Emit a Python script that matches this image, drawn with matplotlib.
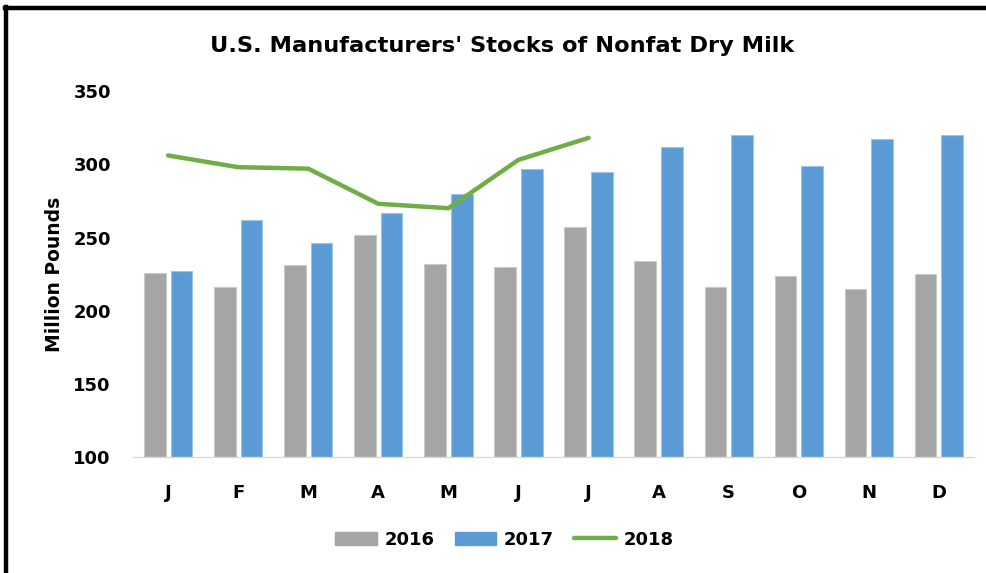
import matplotlib
matplotlib.use("Agg")
import matplotlib.pyplot as plt
import numpy as np
from matplotlib.lines import Line2D
from matplotlib.patches import Patch

months = ["J", "F", "M", "A", "M", "J", "J", "A", "S", "O", "N", "D"]
stocks_2016 = [226, 216, 231, 252, 232, 230, 257, 234, 216, 224, 215, 225]
stocks_2017 = [227, 262, 246, 267, 280, 297, 295, 312, 320, 299, 317, 320]
stocks_2018 = [306, 298, 297, 273, 270, 303, 318]
yticks = [100, 150, 200, 250, 300, 350]

plt.rcParams['font.family'] = ['DejaVu Sans']

fig = plt.figure(figsize=(9.87, 5.73), dpi=100)
ax = fig.add_axes([0.1348, 0.2019, 0.852, 0.6393])

x = np.arange(len(months))
w = 0.31
ax.bar(x - 0.19, stocks_2016, w, bottom=0, color="#A5A5A5", edgecolor="#C9C9C9", linewidth=0.8)
ax.bar(x + 0.19, stocks_2017, w, bottom=0, color="#5B9BD5", edgecolor="#9DC3E6", linewidth=0.8)
ax.plot(np.arange(len(stocks_2018)), stocks_2018, color="#70AD47", linewidth=3.2, solid_capstyle="round")

ax.set_xlim(-0.5, 11.5)
ax.set_ylim(100, 350)
ax.set_yticks(yticks)
ax.set_yticklabels([str(v) for v in yticks], fontsize=13, fontweight="bold")
ax.set_xticks(x)
ax.set_xticklabels(months, fontsize=13, fontweight="bold")
ax.tick_params(axis="y", length=0, pad=16)
ax.tick_params(axis="x", length=0, pad=19)
for s in ["top", "right", "left"]:
    ax.spines[s].set_visible(False)
ax.spines["bottom"].set_color("#D9D9D9")
ax.spines["bottom"].set_linewidth(1)

ax.set_ylabel("Million Pounds", fontsize=13.5, fontweight="bold", labelpad=7)
fig.text(0.509, 0.92, "U.S. Manufacturers' Stocks of Nonfat Dry Milk", ha="center", va="center",
         fontsize=16.2, fontweight="bold")

handles = [Patch(facecolor="#A5A5A5", edgecolor="#A5A5A5"),
           Patch(facecolor="#5B9BD5", edgecolor="#5B9BD5"),
           Line2D([0], [0], color="#70AD47", linewidth=3.2, solid_capstyle="round")]
fig.legend(handles, ["2016", "2017", "2018"], loc="center", bbox_to_anchor=(0.511, 0.058),
           ncol=3, frameon=False, prop={"size": 13, "weight": "bold"},
           handlelength=2.3, handleheight=0.75, columnspacing=1.15, handletextpad=0.4)

# black frame lines (top and left visible)
fig.add_artist(Line2D([0.005, 1.0], [0.9860, 0.9860], color="black", linewidth=3.2, transform=fig.transFigure))
fig.add_artist(Line2D([0.0058, 0.0058], [0.0, 0.9875], color="black", linewidth=3.2, transform=fig.transFigure))

fig.savefig("out.png", dpi=100)
